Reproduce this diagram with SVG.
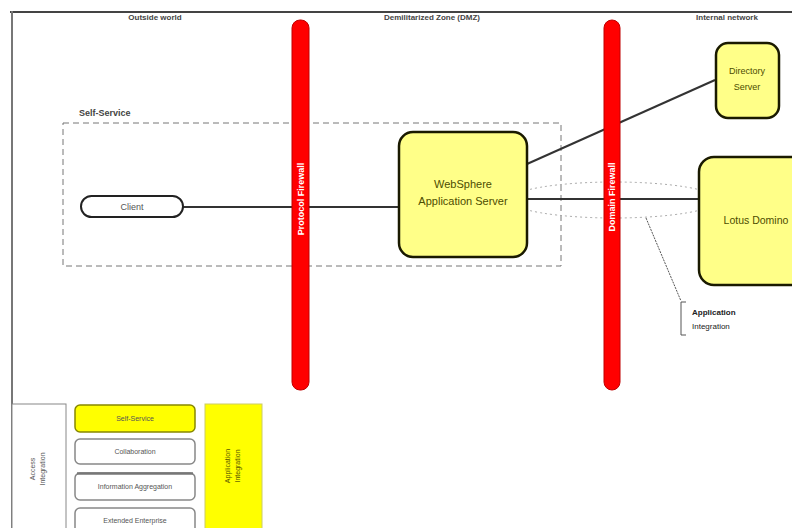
<svg xmlns="http://www.w3.org/2000/svg" width="792" height="528" viewBox="0 0 792 528">
<style>
text{font-family:"Liberation Sans",Arial,sans-serif;}
.zone{font-size:8px;fill:#444;text-anchor:middle;font-weight:bold;}
.fw{fill:#ff0000;stroke:#c00000;stroke-width:1;}
.fwt{font-size:9px;font-weight:bold;fill:#fff;text-anchor:middle;}
.node{fill:#ffff88;stroke:#1a1a00;stroke-width:2.5;}
.nt{font-size:11px;fill:#4d4d00;text-anchor:middle;}
.nts{font-size:9px;fill:#4d4d00;text-anchor:middle;}
.ntm{font-size:10.5px;fill:#4d4d00;text-anchor:middle;}
.conn{stroke:#333;stroke-width:2;fill:none;}
.small{font-size:7px;fill:#555;text-anchor:middle;}
.box{fill:#fff;stroke:#888;stroke-width:1.5;}
</style>
<g id="frame">
<line x1="10" y1="12" x2="792" y2="12" stroke="#444" stroke-width="2"/>
<line x1="12" y1="11" x2="12" y2="528" stroke="#777" stroke-width="2"/>
</g>
<g id="zone-labels">
<text class="zone" x="155" y="20">Outside world</text>
<text class="zone" x="432" y="20">Demilitarized Zone (DMZ)</text>
<text class="zone" x="727" y="20">Internal network</text>
</g>
<g id="self-service-zone">
<rect x="63" y="123" width="498" height="143" fill="none" stroke="#777" stroke-width="1" stroke-dasharray="6,4"/>
<text x="79" y="116" font-size="9" font-weight="bold" fill="#444">Self-Service</text>
</g>
<g id="connectors">
<line class="conn" x1="183" y1="207" x2="399" y2="207"/>
<line class="conn" x1="527" y1="199" x2="699" y2="199"/>
<line class="conn" x1="527" y1="164" x2="715" y2="80"/>
<ellipse cx="614" cy="200" rx="104" ry="18" fill="none" stroke="#aaa" stroke-width="1" stroke-dasharray="2,3"/>
<line x1="646" y1="218" x2="681" y2="301" stroke="#555" stroke-width="1" stroke-dasharray="2,1"/>
</g>
<g id="protocol-firewall">
<rect class="fw" x="292" y="20" width="17" height="370" rx="8"/>
<text class="fwt" transform="translate(304,199) rotate(-90)">Protocol Firewall</text>
</g>
<g id="domain-firewall">
<rect class="fw" x="604" y="20" width="16" height="370" rx="8"/>
<text class="fwt" transform="translate(615,197) rotate(-90)">Domain Firewall</text>
</g>
<g id="client">
<rect x="81" y="196" width="102" height="21" rx="10.5" fill="#fff" stroke="#222" stroke-width="2"/>
<text x="132" y="210" font-size="9" fill="#555" text-anchor="middle">Client</text>
</g>
<g id="websphere">
<rect class="node" x="399" y="132" width="128" height="125" rx="14"/>
<text class="nt" x="463" y="188">WebSphere</text>
<text class="nt" x="463" y="205">Application Server</text>
</g>
<g id="directory-server">
<rect class="node" x="716" y="43" width="63" height="75" rx="12"/>
<text class="nts" x="747" y="74">Directory</text>
<text class="nts" x="747" y="90">Server</text>
</g>
<g id="lotus-domino">
<rect class="node" x="699" y="157" width="110" height="128" rx="15"/>
<text class="ntm" x="756" y="224">Lotus Domino</text>
</g>
<g id="application-integration-note">
<path d="M686,302 H681 V335 H686" fill="none" stroke="#555" stroke-width="1"/>
<text x="692" y="315" font-size="8" font-weight="bold" fill="#222">Application</text>
<text x="692" y="329" font-size="8" fill="#222">Integration</text>
</g>
<g id="access-integration">
<rect x="12" y="404" width="54" height="130" fill="#fff" stroke="#888" stroke-width="1"/>
<text class="small" transform="translate(35,469) rotate(-90)">Access</text>
<text class="small" transform="translate(45,469) rotate(-90)">Integration</text>
</g>
<g id="self-service">
<rect x="75" y="405" width="120" height="27" rx="5" fill="#ffff00" stroke="#888800" stroke-width="1.5"/>
<text class="small" x="135" y="421" fill="#333">Self-Service</text>
</g>
<g id="collaboration">
<rect class="box" x="75" y="439" width="120" height="25" rx="5"/>
<text class="small" x="135" y="454">Collaboration</text>
</g>
<g id="information-aggregation">
<rect class="box" x="75" y="473" width="120" height="27" rx="5"/>
<line x1="77" y1="473.5" x2="193" y2="473.5" stroke="#777" stroke-width="2.5"/>
<text class="small" x="135" y="489">Information Aggregation</text>
</g>
<g id="extended-enterprise">
<rect class="box" x="75" y="508" width="120" height="30" rx="5"/>
<text class="small" x="135" y="523">Extended Enterprise</text>
</g>
<g id="application-integration">
<rect x="205" y="404" width="57" height="130" fill="#ffff00" stroke="#cccc66" stroke-width="1"/>
<text class="small" transform="translate(230,466) rotate(-90)" style="fill:#555500">Application</text>
<text class="small" transform="translate(240,466) rotate(-90)" style="fill:#555500">Integration</text>
</g>
</svg>
